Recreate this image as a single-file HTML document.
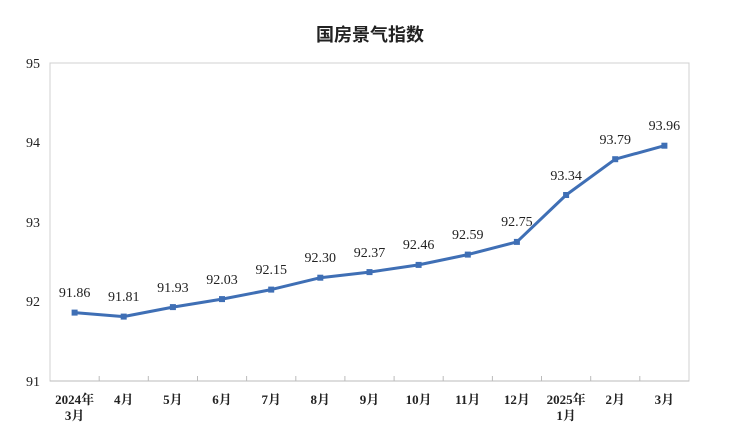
<!DOCTYPE html>
<html><head><meta charset="utf-8"><style>body{margin:0;background:#fff}svg{display:block}</style></head><body>
<svg width="740" height="447" viewBox="0 0 740 447" xmlns="http://www.w3.org/2000/svg" font-family="'Liberation Serif','Noto Serif CJK SC',serif" fill="#222">
<text x="370" y="41" text-anchor="middle" font-size="18" font-weight="bold" font-family="'Liberation Sans','Noto Sans CJK SC',sans-serif">国房景气指数</text>
<rect x="50" y="63" width="639" height="318" fill="none" stroke="#d0d0d0" stroke-width="1"/>
<line x1="50" y1="381" x2="689" y2="381" stroke="#bbb"/>
<g stroke="#bbb">
<line x1="99.2" y1="381" x2="99.2" y2="376"/><line x1="148.3" y1="381" x2="148.3" y2="376"/><line x1="197.5" y1="381" x2="197.5" y2="376"/><line x1="246.6" y1="381" x2="246.6" y2="376"/><line x1="295.8" y1="381" x2="295.8" y2="376"/><line x1="344.9" y1="381" x2="344.9" y2="376"/><line x1="394.1" y1="381" x2="394.1" y2="376"/><line x1="443.2" y1="381" x2="443.2" y2="376"/><line x1="492.4" y1="381" x2="492.4" y2="376"/><line x1="541.5" y1="381" x2="541.5" y2="376"/><line x1="590.7" y1="381" x2="590.7" y2="376"/><line x1="639.8" y1="381" x2="639.8" y2="376"/>
</g>
<g font-size="14" text-anchor="end">
<text x="40" y="68">95</text><text x="40" y="147">94</text><text x="40" y="227">93</text><text x="40" y="306">92</text><text x="40" y="386">91</text>
</g>
<polyline fill="none" stroke="#3f6fb5" stroke-width="3" stroke-linejoin="round" points="74.6,312.6 123.7,316.6 172.9,307.1 222,299.1 271.2,289.6 320.3,277.7 369.5,272.1 418.6,264.9 467.8,254.6 516.9,241.9 566.1,195 615.2,159.2 664.4,145.7"/>
<g fill="#3f6fb5">
<rect x="71.6" y="309.6" width="6" height="6"/><rect x="120.7" y="313.6" width="6" height="6"/><rect x="169.9" y="304.1" width="6" height="6"/><rect x="219" y="296.1" width="6" height="6"/><rect x="268.2" y="286.6" width="6" height="6"/><rect x="317.3" y="274.7" width="6" height="6"/><rect x="366.5" y="269.1" width="6" height="6"/><rect x="415.6" y="261.9" width="6" height="6"/><rect x="464.8" y="251.6" width="6" height="6"/><rect x="513.9" y="238.9" width="6" height="6"/><rect x="563.1" y="192" width="6" height="6"/><rect x="612.2" y="156.2" width="6" height="6"/><rect x="661.4" y="142.7" width="6" height="6"/>
</g>
<g font-size="14" text-anchor="middle">
<text x="74.6" y="297">91.86</text><text x="123.7" y="301">91.81</text><text x="172.9" y="292">91.93</text><text x="222" y="284">92.03</text><text x="271.2" y="274">92.15</text><text x="320.3" y="262">92.30</text><text x="369.5" y="257">92.37</text><text x="418.6" y="249">92.46</text><text x="467.8" y="239">92.59</text><text x="516.9" y="226">92.75</text><text x="566.1" y="180">93.34</text><text x="615.2" y="144">93.79</text><text x="664.4" y="130">93.96</text>
</g>
<g font-size="13" text-anchor="middle" font-weight="bold">
<text x="74.6" y="404">2024年</text><text x="74.6" y="420">3月</text>
<text x="123.7" y="404">4月</text><text x="172.9" y="404">5月</text><text x="222" y="404">6月</text><text x="271.2" y="404">7月</text><text x="320.3" y="404">8月</text><text x="369.5" y="404">9月</text><text x="418.6" y="404">10月</text><text x="467.8" y="404">11月</text><text x="516.9" y="404">12月</text>
<text x="566.1" y="404">2025年</text><text x="566.1" y="420">1月</text>
<text x="615.2" y="404">2月</text><text x="664.4" y="404">3月</text>
</g>
</svg>
</body></html>
